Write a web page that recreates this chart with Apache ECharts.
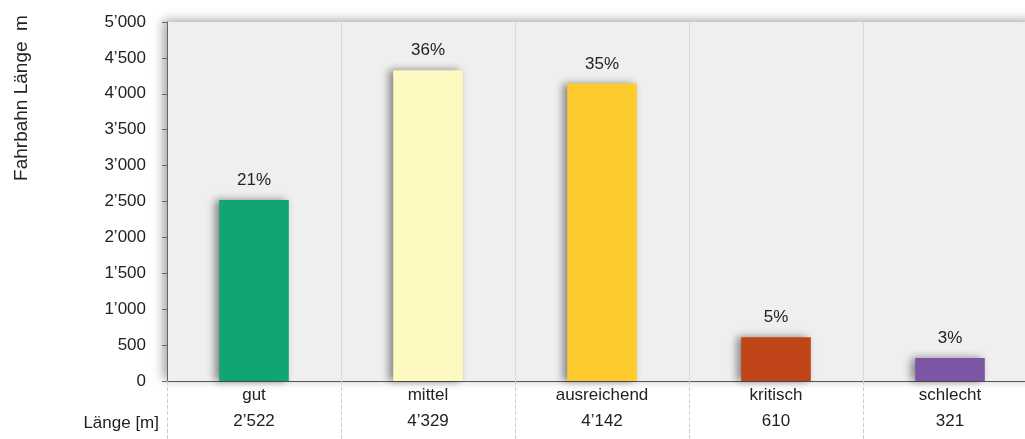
<!DOCTYPE html>
<html><head><meta charset="utf-8">
<script src="https://cdn.jsdelivr.net/npm/echarts@6/dist/echarts.min.js"></script>
<style>html,body{margin:0;padding:0;background:#fff}#c{width:1025px;height:439px}</style>
</head><body><div id="c"></div>
<script>
var categories = ['gut', 'mittel', 'ausreichend', 'kritisch', 'schlecht'];
var lengths = [2522, 4329, 4142, 610, 321];
var colors = ['#12a574', '#fdf9c0', '#fecb2f', '#bf4418', '#7b55a6'];
var yTicks = [0, 500, 1000, 1500, 2000, 2500, 3000, 3500, 4000, 4500, 5000];

function fmt(v) { return String(v).replace(/\B(?=(\d{3})+(?!\d))/g, '\u2019'); }
var total = lengths.reduce(function (a, b) { return a + b; }, 0);
var FONT = 'Liberation Sans, Arial, sans-serif';

var chart = echarts.init(document.getElementById('c'));
chart.setOption({
  animation: false,
  grid: {
    left: 167, width: 870, top: 22, bottom: 58,
    outerBoundsMode: 'none', containLabel: false,
    show: true, backgroundColor: '#efefef', borderWidth: 0,
    shadowColor: 'rgba(0,0,0,0.35)', shadowBlur: 10, shadowOffsetX: -4, shadowOffsetY: -2
  },
  xAxis: [{
    type: 'category', data: categories, position: 'bottom',
    axisLine: { show: true, lineStyle: { color: '#555', width: 1 } },
    axisTick: { show: true, length: 58, lineStyle: { color: '#cfcfcf', type: 'dashed' } },
    splitLine: { show: true, lineStyle: { color: '#d9d9d9', width: 1 } },
    axisLabel: { color: '#222', fontSize: 17, fontFamily: FONT, margin: 6 }
  }, {
    type: 'category', data: lengths.map(fmt), position: 'bottom', offset: 27,
    axisLine: { show: false }, axisTick: { show: false }, splitLine: { show: false },
    axisLabel: { color: '#222', fontSize: 17, fontFamily: FONT, margin: 5 }
  }],
  yAxis: {
    type: 'value', min: yTicks[0], max: yTicks[yTicks.length - 1], interval: 500,
    axisLine: { show: true, lineStyle: { color: '#666' } },
    axisTick: { show: true, length: 5, lineStyle: { color: '#666' } },
    splitLine: { show: false },
    axisLabel: { color: '#222', fontSize: 17, fontFamily: FONT, margin: 21, formatter: function (v) { return fmt(v); } }
  },
  graphic: [
    { type: 'text', x: 22, y: 98, rotation: Math.PI / 2, style: { text: 'Fahrbahn Länge  m', fill: '#222', font: '19px ' + FONT, textAlign: 'center', textVerticalAlign: 'middle' } },
    { type: 'text', x: 159, y: 423, style: { text: 'Länge [m]', fill: '#222', font: '17px ' + FONT, textAlign: 'right', textVerticalAlign: 'middle' } }
  ],
  series: [{
    type: 'bar', barWidth: '40%',
    data: lengths.map(function (v, i) {
      return { value: v, itemStyle: { color: colors[i] } };
    }),
    itemStyle: { shadowColor: 'rgba(0,0,0,0.45)', shadowBlur: 8, shadowOffsetX: -4, shadowOffsetY: 0 },
    label: {
      show: true, position: 'top', distance: 11, color: '#222', fontSize: 17, fontFamily: FONT,
      formatter: function (p) { return Math.round(p.value / total * 100) + '%'; }
    }
  }]
});
</script></body></html>
